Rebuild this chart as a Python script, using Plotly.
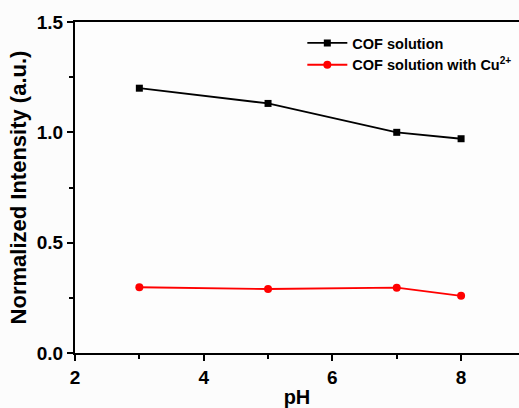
import plotly.graph_objects as go

ph = [3, 5, 7, 8]
cof = [1.20, 1.131, 1.00, 0.971]
cof_cu = [0.298, 0.290, 0.296, 0.259]
x_ticks = [2, 4, 6, 8]
y_ticks = [0.0, 0.5, 1.0, 1.5]
y_labels = ["0.0", "0.5", "1.0", "1.5"]

fig = go.Figure()
fig.add_trace(go.Scatter(x=ph, y=cof, mode="lines+markers", name="COF solution",
                         line=dict(color="black", width=1.8),
                         marker=dict(symbol="square", size=7, color="black")))
fig.add_trace(go.Scatter(x=ph, y=cof_cu, mode="lines+markers", name="COF solution with Cu<sup>2+</sup>",
                         line=dict(color="#ff0000", width=1.8),
                         marker=dict(symbol="circle", size=8, color="#ff0000")))

FAM = "Liberation Sans"
fig.update_layout(
    width=519, height=408,
    margin=dict(l=75, r=0, t=22, b=55),
    paper_bgcolor="#fcfcfc", plot_bgcolor="#fdfdfd",
    font=dict(family=FAM, color="black", weight="bold"),
    showlegend=True,
    legend=dict(x=0.512, y=0.985, xanchor="left", yanchor="top",
                bgcolor="rgba(0,0,0,0)", font=dict(family=FAM, size=14.5, color="black", weight="bold"),
                tracegroupgap=0, itemwidth=40),
    xaxis=dict(range=[2, 8.9], tickvals=x_ticks, ticktext=[str(v) for v in x_ticks],
               showline=True, linecolor="black", linewidth=2, mirror=True,
               ticks="outside", ticklen=6, tickwidth=2, tickcolor="black",
               minor=dict(tickvals=[3, 5, 7], ticks="outside", ticklen=4, tickwidth=2, tickcolor="black", showgrid=False),
               showgrid=False, zeroline=False,
               tickfont=dict(family=FAM, size=19, color="black", weight="bold"),
               title=dict(text="pH", font=dict(family=FAM, size=20, color="black", weight="bold"), standoff=3)),
    yaxis=dict(range=[0, 1.5], tickvals=y_ticks, ticktext=y_labels,
               showline=True, linecolor="black", linewidth=2, mirror=False,
               ticks="outside", ticklen=6, tickwidth=2, tickcolor="black",
               minor=dict(tickvals=[0.25, 0.75, 1.25], ticks="outside", ticklen=4, tickwidth=2, tickcolor="black", showgrid=False),
               showgrid=False, zeroline=False,
               tickfont=dict(family=FAM, size=19, color="black", weight="bold"),
               title=dict(text="Normalized Intensity (a.u.)", font=dict(family=FAM, size=22, color="black", weight="bold"), standoff=4)),
)
fig.write_html("out.html")
